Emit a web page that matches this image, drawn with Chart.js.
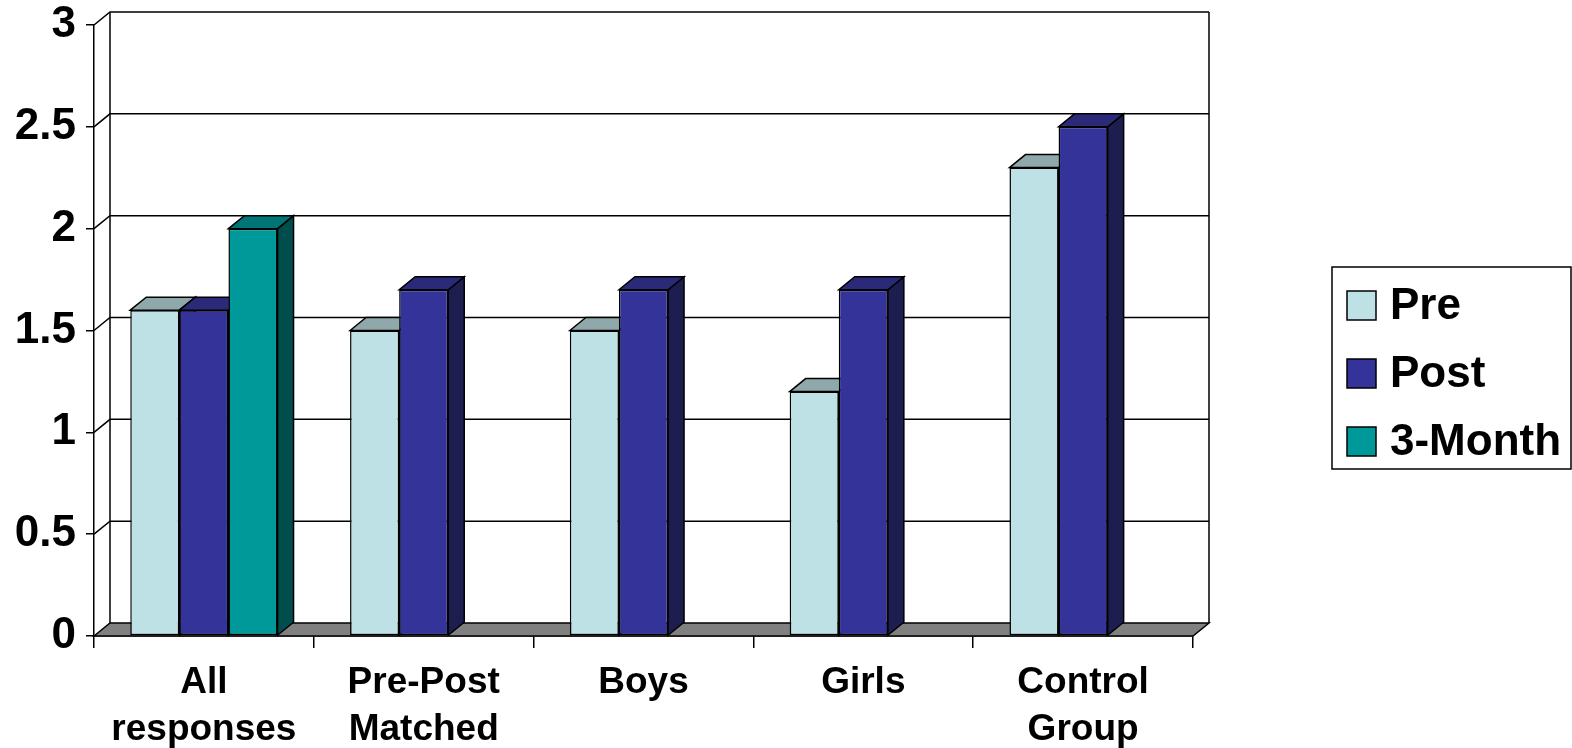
<!DOCTYPE html>
<html>
<head>
<meta charset="utf-8">
<script src="https://cdn.jsdelivr.net/npm/chart.js@4.4.1/dist/chart.umd.min.js"></script>
<style>
  html, body { margin: 0; padding: 0; background: #fff; }
  canvas { display: block; }
</style>
</head>
<body>
<canvas id="chart" width="1572" height="748"></canvas>
<script>
const categories = [['All', 'responses'], ['Pre-Post', 'Matched'], 'Boys', 'Girls', ['Control', 'Group']]
const seriesNames = ['Pre', 'Post', '3-Month']
const preValues = [1.6, 1.5, 1.5, 1.2, 2.3]
const postValues = [1.6, 1.7, 1.7, 1.7, 2.5]
const threeMonthValues = [2.0, null, null, null, null]
const yTicks = [0, 0.5, 1, 1.5, 2, 2.5, 3]

// face colours: front, top, side
const faces = {
    'Pre': ['#bde1e4', '#8fa9ab', '#7f9698'],
    'Post': ['#333399', '#2a2a78', '#1d1d50'],
    '3-Month': ['#009999', '#007575', '#004d4d']
}

const DX = 16
const DY = 13
const FONT = '"Liberation Sans", Arial, sans-serif'

function poly(ctx, pts, fill) {
    ctx.beginPath()
    ctx.moveTo(pts[0][0], pts[0][1])
    pts.slice(1).forEach((p) => ctx.lineTo(p[0], p[1]))
    ctx.closePath()
    ctx.fillStyle = fill
    ctx.fill()
    ctx.stroke()
}

const depthPlugin = {
    id: 'depth',
    beforeDatasetsDraw(chart) {
        const ctx = chart.ctx
        const a = chart.chartArea
        const y = chart.scales.y
        ctx.save()
        ctx.strokeStyle = '#000'
        ctx.lineWidth = 1.5

        // back wall grid lines
        yTicks.forEach((v) => {
            if (v === 0) return
            const py = y.getPixelForValue(v)
            ctx.beginPath()
            ctx.moveTo(a.left, py)
            ctx.lineTo(a.left + DX, py - DY)
            ctx.lineTo(a.right + DX, py - DY)
            ctx.stroke()
        })

        const top = y.getPixelForValue(yTicks[yTicks.length - 1])
        const py0 = y.getPixelForValue(0)
        ctx.beginPath()
        ctx.moveTo(a.left + DX, top - DY)
        ctx.lineTo(a.left + DX, py0 - DY)
        ctx.moveTo(a.right + DX, top - DY)
        ctx.lineTo(a.right + DX, py0 - DY)
        ctx.stroke()

        // floor
        poly(ctx, [[a.left, py0], [a.left + DX, py0 - DY], [a.right + DX, py0 - DY], [a.right, py0]], '#808080')

        // tops and sides of the bars, the fronts are drawn by the chart
        const bars = []
        chart.data.datasets.forEach((ds, i) => {
            chart.getDatasetMeta(i).data.forEach((bar, j) => {
                if (ds.data[j] == null) return
                bars.push({ bar, name: ds.label })
            })
        })
        bars.sort((p, q) => p.bar.x - q.bar.x)
        bars.forEach(({ bar, name }) => {
            const l = bar.x - bar.width / 2
            const r = bar.x + bar.width / 2
            const t = bar.y
            const b = bar.base
            poly(ctx, [[r, t], [r + DX, t - DY], [r + DX, b - DY], [r, b]], faces[name][2])
            poly(ctx, [[l, t], [l + DX, t - DY], [r + DX, t - DY], [r, t]], faces[name][1])
        })
        ctx.restore()
    },
    afterDraw(chart) {
        const ctx = chart.ctx
        ctx.save()
        ctx.strokeStyle = '#000'
        ctx.lineWidth = 1.5
        ctx.strokeRect(1332, 267, 239, 202)
        ctx.font = 'bold 44px ' + FONT
        ctx.textBaseline = 'middle'
        chart.data.datasets.forEach((ds, i) => {
            const cy = 305 + i * 68
            ctx.fillStyle = ds.backgroundColor
            ctx.fillRect(1347, cy - 14, 29, 29)
            ctx.strokeRect(1347, cy - 14, 29, 29)
            ctx.fillStyle = '#000'
            ctx.fillText(ds.label, 1390, cy + 2)
        })
        ctx.restore()
    }
}

const seriesValues = [preValues, postValues, threeMonthValues]

new Chart(document.getElementById('chart'), {
    type: 'bar',
    data: {
        labels: categories,
        datasets: seriesNames.map((name, i) => ({
            label: name,
            data: seriesValues[i],
            backgroundColor: faces[name][0],
            borderColor: '#000',
            borderWidth: 1.5,
            borderSkipped: false,
            categoryPercentage: 0.67,
            barPercentage: 1
        }))
    },
    options: {
        responsive: false,
        animation: false,
        devicePixelRatio: 1,
        layout: { padding: { left: 0, top: 25, right: 379, bottom: 0 } },
        plugins: {
            legend: { display: false },
            tooltip: { enabled: false }
        },
        scales: {
            x: {
                grid: { drawOnChartArea: false, color: '#000', lineWidth: 1.5, tickLength: 12 },
                border: { color: '#000', width: 1.5 },
                ticks: {
                    color: '#000',
                    padding: 12,
                    maxRotation: 0,
                    font: { family: FONT, size: 37, weight: 'bold', lineHeight: 1.25 }
                },
                afterFit: (scale) => { scale.height = 112 }
            },
            y: {
                min: 0,
                max: 3,
                afterBuildTicks: (scale) => { scale.ticks = yTicks.map((v) => ({ value: v })) },
                grid: { drawOnChartArea: false, color: '#000', lineWidth: 1.5, tickLength: 8 },
                border: { color: '#000', width: 1.5 },
                ticks: {
                    color: '#000',
                    padding: 10,
                    font: { family: FONT, size: 44, weight: 'bold', lineHeight: 0.3 },
                    callback: (v) => String(v)
                },
                afterFit: (scale) => { scale.width = 94 }
            }
        }
    },
    plugins: [depthPlugin]
})
</script>
</body>
</html>
